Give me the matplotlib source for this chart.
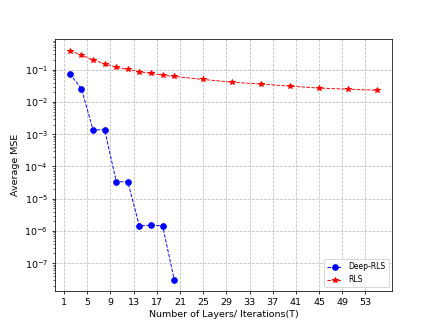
import matplotlib
matplotlib.use("Agg")
import matplotlib.pyplot as plt

# Deep-RLS (unfolded layers)
deep_T   = [2, 4, 6, 8, 10, 12, 14, 16, 18, 20]
deep_mse = [0.074, 0.026, 1.35e-3, 1.4e-3, 3.4e-5, 3.3e-5, 1.43e-6, 1.5e-6, 1.45e-6, 3.1e-8]

# Classic RLS (iterations)
rls_T   = [2, 4, 6, 8, 10, 12, 14, 16, 18, 20, 25, 30, 35, 40, 45, 50, 55]
rls_mse = [0.39, 0.286, 0.2, 0.154, 0.119, 0.102, 0.087, 0.077, 0.068, 0.062,
           0.05, 0.041, 0.036, 0.031, 0.027, 0.025, 0.023]

xticks = list(range(1, 55, 4))

fig, ax = plt.subplots(figsize=(6.4, 4.8), dpi=68.125)

ax.semilogy(deep_T, deep_mse, "o--", color="blue", linewidth=1, markersize=6, label="Deep-RLS")
ax.semilogy(rls_T, rls_mse, "*--", color="red", linewidth=1, markersize=6, label="RLS")

ax.set_xticks(xticks)
ax.set_xlabel("Number of Layers/ Iterations(T)")
ax.set_ylabel("Average MSE")
ax.grid(True, linestyle="--", color="#bbbbbb", linewidth=0.8)
ax.legend(loc="lower right", fontsize=8)

plt.savefig("out.png", dpi=68.125)
